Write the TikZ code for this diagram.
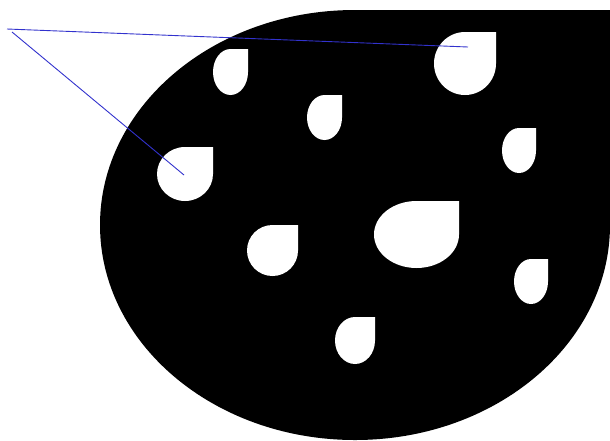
\documentclass[tikz,border=0pt]{standalone}
\usepackage{xcolor}
\usetikzlibrary{calc}
\definecolor{leadblue}{RGB}{50,50,205}
\tikzset{
  blob/.style={fill=black,draw=none},
  holefill/.style={fill=white,draw=none},
  lead/.style={draw=leadblue,line width=0.9pt}
}
% drop with square top-right corner: centre x, centre y, x radius, y radius
\newcommand{\dropshape}[5]{%
  \path[#1] (#2,#3-#5) -- (#2+#4,#3-#5) -- (#2+#4,#3)
    arc[start angle=0,end angle=270,x radius=#4,y radius=#5] -- cycle;}

\begin{document}
\begin{tikzpicture}[x=1pt,y=-1pt]
  \useasboundingbox (0,0) rectangle (610,440);

  % outer drop
  \dropshape{blob}{355}{225}{255}{215}

  % holes
  \dropshape{holefill}{230.5}{72}{17.5}{23}
  \dropshape{holefill}{465}{63.5}{31}{31.5}
  \dropshape{holefill}{324.5}{117.5}{17.5}{22.5}
  \dropshape{holefill}{519}{150.5}{17}{22.5}
  \dropshape{holefill}{185}{174}{28}{27}
  \dropshape{holefill}{416.5}{234.5}{42.5}{33.5}
  \dropshape{holefill}{272.5}{250.5}{25.5}{25.5}
  \dropshape{holefill}{531}{281.5}{17}{22.5}
  \dropshape{holefill}{355}{340.5}{20}{23.5}

  % leader lines
  \coordinate (srcA) at (7,29);
  \coordinate (srcB) at (12,32);
  \coordinate (tipA) at (468,47);
  \coordinate (tipB) at (184,175);
  \draw[lead] (srcA) -- (tipA);
  \draw[lead] (srcB) -- (tipB);
\end{tikzpicture}
\end{document}
